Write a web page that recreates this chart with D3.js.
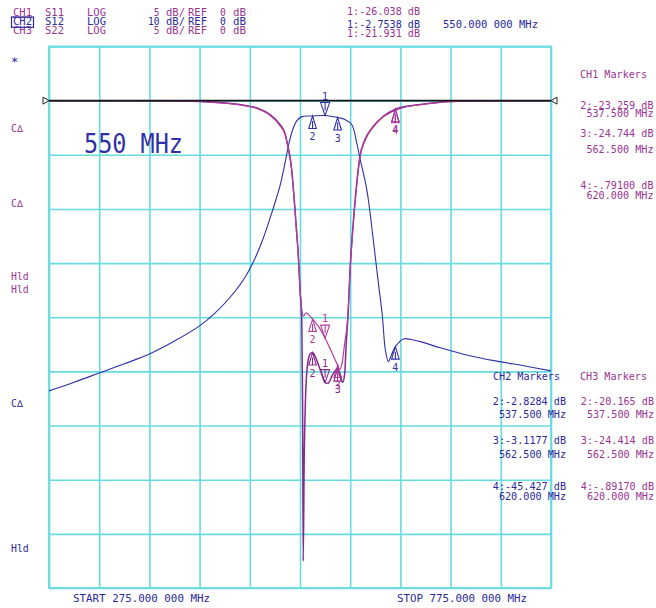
<!DOCTYPE html>
<html><head><meta charset="utf-8">
<script src="https://cdn.jsdelivr.net/npm/d3@7"></script>
<style>
html,body{margin:0;padding:0;background:#fff;}
svg{display:block;}
text{font-family:"DejaVu Sans Mono","Liberation Mono",monospace;}
</style></head><body>
<svg id="c" width="656" height="608"></svg>
<script>
// ---------------- DATA ----------------
const startMHz = 275, stopMHz = 775;
const gridFreqs = [275,325,375,425,475,525,575,625,675,725,775];
const gridDb10 = [10,0,-10,-20,-30,-40,-50,-60,-70,-80,-90];

// CH2 S12 (LOG 10 dB/div)
const s12Freq = [275,300,325,350,375,400,425,440,455,470,480,488,495,500,505,510,514,518,522,527,537.5,550,562.5,570,576.5,581.5,585,591.5,598,603,607,610,613,616,620,628,638,645,664,694,724,749,775];
const s12Db   = [-53.6,-52.0,-50.3,-48.6,-46.8,-44.4,-41.6,-39.3,-36.4,-32.7,-29.2,-25.6,-21.8,-18.9,-15.8,-11.6,-7.9,-5.2,-3.7,-2.95,-2.83,-2.75,-3.12,-3.5,-4.4,-7.8,-10.9,-16.4,-25.7,-33.6,-39.7,-46.0,-48.2,-47.0,-45.43,-44.0,-44.2,-44.5,-45.6,-47.1,-48.2,-49.0,-49.9];

// CH1 S11 (LOG 5 dB/div)
const s11Freq = [275,350,395,432,465,482,495,505,510,513,516,518.5,521,523.4,525.1,526.8,527.6,528.2,529.2,530.5,532,535,537.5,540,545,550,553,557,562.5,565,567.5,569.5,571,573,574.7,578,581.5,584.8,589.7,598,608,620,631,644.5,674,700,775];
const s11Db   = [0,0,-0.02,-0.1,-0.36,-0.67,-1.28,-2.2,-3.0,-4.2,-5.8,-8.2,-11.3,-14.4,-17.5,-20.5,-28,-42.5,-33,-27.5,-24.8,-23.4,-23.259,-23.6,-24.8,-26.038,-26.1,-25.4,-24.744,-25.4,-26.0,-25.2,-22.5,-19.6,-15.9,-11.3,-7.6,-5.1,-3.6,-2.37,-1.44,-0.791,-0.52,-0.36,-0.08,-0.03,0];

// CH3 S22 (LOG 5 dB/div)
const s22Freq = [275,350,395,432,465,482,495,505,510,513,516,518.5,521,523.4,525.1,526.8,528.5,531,534,537.5,543,550,556,562.5,565,567,569.5,572,573.5,574.7,578,581.5,584.8,589.7,598,608,620,631,644.5,674,700,775];
const s22Db   = [0,0,-0.02,-0.12,-0.4,-0.72,-1.35,-2.3,-3.1,-4.3,-5.9,-8.3,-11.4,-14.5,-17.5,-19.3,-19.9,-19.6,-19.8,-20.165,-20.8,-21.931,-23.1,-24.414,-24.8,-24.2,-22.4,-20.6,-18.5,-16.1,-11.5,-7.8,-5.2,-3.7,-2.45,-1.5,-0.8917,-0.56,-0.38,-0.09,-0.03,0];

// Markers
const markerIds   = ["1","2","3","4"];
const markerFreqs = [550, 537.5, 562.5, 620];
const ch1MarkerDb = [-26.038, -23.259, -24.744, -0.791];
const ch2MarkerDb = [-2.7538, -2.8284, -3.1177, -45.427];
const ch3MarkerDb = [-21.931, -20.165, -24.414, -0.8917];

// Texts
const chNames    = ["CH1","CH2","CH3"];
const chParams   = ["S11","S12","S22"];
const chFormats  = ["LOG","LOG","LOG"];
const chScales   = ["5","10","5"];
const chActive   = ["1:-26.038 dB","1:-2.7538 dB","1:-21.931 dB"];
const activeFreqLabel = "550.000 000 MHz";
const ch1Readout = ["2:-23.259 dB","537.500 MHz","3:-24.744 dB","562.500 MHz","4:-.79100 dB","620.000 MHz"];
const ch2Readout = ["2:-2.8284 dB","537.500 MHz","3:-3.1177 dB","562.500 MHz","4:-45.427 dB","620.000 MHz"];
const ch3Readout = ["2:-20.165 dB","537.500 MHz","3:-24.414 dB","562.500 MHz","4:-.89170 dB","620.000 MHz"];
const markerTitles = ["CH1 Markers","CH2 Markers","CH3 Markers"];
const startLabel = "START 275.000 000 MHz";
const stopLabel  = "STOP 775.000 000 MHz";
const bigLabel   = "550 MHz";
const sideLabels = ["*","C\u2206","C\u2206","Hld","Hld","C\u2206","Hld"];

// ---------------- LAYOUT / STYLE ----------------
const BLUE = "#3030a8", BLUE_T = "#2a2a9c";
const PURP = "#86288a", PINK = "#b23c9e", PURP_T = "#9a3592";
const GRID = "#66dbe0";
const L = 49, R = 551, T = 46.5, B = 588;

const svg = d3.select("#c");
svg.append("rect").attr("width",656).attr("height",608).attr("fill","#fff");

const x = d3.scaleLinear().domain([startMHz, stopMHz]).range([L, R]);
const y5 = d3.scaleLinear().domain([5, -45]).range([T, B]);
const y10 = d3.scaleLinear().domain([10, -90]).range([T, B]);

// grid
const gx = svg.append("g").attr("transform", `translate(0,${B})`)
  .call(d3.axisBottom(x).tickValues(gridFreqs).tickSize(-(B - T)).tickFormat(""));
const gy = svg.append("g").attr("transform", `translate(${L},0)`)
  .call(d3.axisLeft(y10).tickValues(gridDb10).tickSize(-(R - L)).tickFormat(""));
[gx, gy].forEach(g => {
  g.select(".domain").remove();
  g.selectAll("line").attr("stroke", GRID).attr("stroke-width", 1.6);
});
svg.append("rect").attr("x", L).attr("y", T).attr("width", R - L).attr("height", B - T)
  .attr("fill", "none").attr("stroke", GRID).attr("stroke-width", 1.8);

// traces
function trace(freqs, dbs, ys, color, w, curve) {
  const pts = freqs.map((f, i) => [f, dbs[i]]);
  svg.append("path").datum(pts)
    .attr("fill", "none").attr("stroke", color).attr("stroke-width", w)
    .attr("stroke-linejoin", "round")
    .attr("d", d3.line().x(d => x(d[0])).y(d => ys(d[1])).curve(curve));
}
trace(s12Freq, s12Db, y10, BLUE, 1.1, d3.curveCatmullRom.alpha(0.5));
trace(s11Freq, s11Db, y5, PURP, 1.5, d3.curveMonotoneX);
trace(s22Freq, s22Db, y5, PINK, 1.2, d3.curveMonotoneX);

// reference line + reference triangles
const yRef = y5(0);
svg.append("line").attr("x1", L).attr("x2", R).attr("y1", yRef).attr("y2", yRef)
  .attr("stroke", "#151515").attr("stroke-width", 1.7);
svg.append("path").attr("d", `M${L-6},${yRef-3.5}L${L},${yRef}L${L-6},${yRef+3.5}Z`)
  .attr("fill", "#fff").attr("stroke", "#222").attr("stroke-width", 1);
svg.append("path").attr("d", `M${R+6},${yRef-3.5}L${R},${yRef}L${R+6},${yRef+3.5}Z`)
  .attr("fill", "#fff").attr("stroke", "#222").attr("stroke-width", 1);

// markers
function markers(dbs, ys, color) {
  markerFreqs.forEach((f, i) => {
    const mx = x(f), my = ys(dbs[i]);
    const g = svg.append("g");
    if (i === 0) {
      g.append("path").attr("d", `M${mx},${my}L${mx-4.5},${my-13}L${mx+4.5},${my-13}Z M${mx},${my-13}L${mx},${my-5}`)
        .attr("fill", "none").attr("stroke", color).attr("stroke-width", 1.1);
      g.append("text").attr("x", mx).attr("y", my - 16).attr("text-anchor", "middle")
        .attr("font-size", 10).attr("fill", color).text(markerIds[i]);
    } else {
      g.append("path").attr("d", `M${mx},${my}L${mx-3.8},${my+12.5}L${mx+3.8},${my+12.5}Z M${mx},${my+5}L${mx},${my+12.5}`)
        .attr("fill", "none").attr("stroke", color).attr("stroke-width", 1.1);
      g.append("text").attr("x", mx).attr("y", my + 24).attr("text-anchor", "middle")
        .attr("font-size", 10).attr("fill", color).text(markerIds[i]);
    }
  });
}
markers(ch2MarkerDb, y10, BLUE);
markers(ch1MarkerDb, y5, PURP);
markers(ch3MarkerDb, y5, PINK);

// big frequency label
svg.append("text").attr("x", 84).attr("y", 153).attr("font-family", "'Liberation Mono',monospace")
  .attr("font-size", 26).attr("fill", BLUE).attr("textLength", 99).attr("lengthAdjust", "spacingAndGlyphs")
  .text(bigLabel);

// header
const rowY = [15.8, 25.4, 33.8];
const rowColor = [PURP_T, BLUE_T, PURP_T];
const fs = 9.6;
function txt(s, xx, yy, color, anchor, len) {
  const t = svg.append("text").attr("x", xx).attr("y", yy).attr("font-size", fs)
    .attr("fill", color).attr("text-anchor", anchor || "start").text(s);
  if (len) t.attr("textLength", len).attr("lengthAdjust", "spacingAndGlyphs");
  return t;
}
chNames.forEach((c, i) => {
  const yy = rowY[i], col = rowColor[i];
  txt(c, 13, yy, col, "start", 19);
  txt(chParams[i], 45, yy, col, "start", 19);
  txt(chFormats[i], 87, yy, col, "start", 19);
  txt(chScales[i], 159.5, yy, col, "end");
  txt("dB/", 166, yy, col, "start", 19);
  txt("REF", 188, yy, col, "start", 19);
  txt("0", 220, yy, col);
  txt("dB", 233, yy, col, "start", 13);
});
svg.append("line").attr("x1", 13).attr("x2", 32).attr("y1", 17.3).attr("y2", 17.3)
  .attr("stroke", PURP_T).attr("stroke-width", 1);
svg.append("rect").attr("x", 11.5).attr("y", 17).attr("width", 22).attr("height", 10.3)
  .attr("fill", "none").attr("stroke", BLUE_T).attr("stroke-width", 1.2);

const rowYR = [15, 28.3, 37.3];
chActive.forEach((s, i) => txt(s, 347, rowYR[i], rowColor[i], "start", 73));
txt(activeFreqLabel, 443, 28.3, BLUE_T, "start", 95);

// side labels
const sideY = [66, 132, 207, 280, 293, 406.5, 552];
const sideC = [BLUE_T, PURP_T, PURP_T, PURP_T, PURP_T, BLUE_T, BLUE_T];
sideLabels.forEach((s, i) => txt(s, 11, sideY[i], sideC[i]).attr("font-size", s === "*" ? 12 : 9.8));

// marker readouts (right-aligned blocks)
function readout(list, right, ys, color) {
  list.forEach((s, i) => {
    const len = s.length * 6.1;
    txt(s, right - len, ys[i], color, "start", len);
  });
}
txt(markerTitles[0], 580, 78, PURP_T, "start", 67);
const r1Y = [108.5, 117.2, 137, 153, 188.5, 198.5];
readout(ch1Readout, 653.5, r1Y, PURP_T);
txt(markerTitles[1], 493, 380, BLUE_T, "start", 67);
txt(markerTitles[2], 580, 380, PURP_T, "start", 67);
const r2Y = [404.5, 417.5, 444, 457.5, 489.5, 499.5];
readout(ch2Readout, 566, r2Y, BLUE_T);
readout(ch3Readout, 654, r2Y, PURP_T);

// start / stop
txt(startLabel, 73, 602, BLUE_T, "start", 137);
txt(stopLabel, 397, 602, BLUE_T, "start", 130);
</script>
</body></html>
